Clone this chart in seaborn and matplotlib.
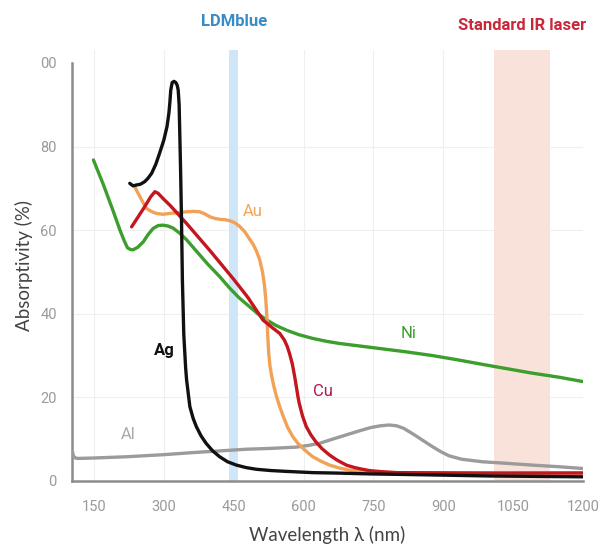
import pandas as pd
import matplotlib
matplotlib.use("Agg")
import matplotlib.pyplot as plt
import matplotlib.transforms as mtransforms
import seaborn as sns

# =====================================================
# DATA
# =====================================================

ag_nm = [227, 234, 241, 250, 259, 266, 274, 283, 291, 300, 307, 311, 313, 315,
         318, 322, 326, 329, 331, 333, 334, 336, 338, 340, 343, 347, 349, 356,
         363, 370, 380, 391, 405, 420, 437, 456, 477, 499, 530, 563, 620, 670,
         741, 850, 1000, 1200]
ag_val = [71.2, 70.6, 70.8, 71.0, 71.6, 72.4, 73.6, 75.8, 78.4, 81.5, 84.8, 88.0,
          90.4, 93.5, 95.3, 95.6, 95.3, 94.6, 93.5, 90.0, 85.0, 75.0, 63.0, 48.0,
          35.0, 27.0, 24.2, 17.8, 15.0, 13.0, 10.8, 9.0, 7.2, 5.8, 4.6, 3.8, 3.2,
          2.8, 2.5, 2.3, 2.0, 1.9, 1.7, 1.5, 1.2, 1.0]

cu_nm = [231, 245, 259, 272, 281, 288, 300, 313, 349, 400, 449, 480, 513, 535,
         549, 559, 565, 570, 576, 581, 585, 588, 591, 598, 606, 616, 627, 640,
         656, 672, 692, 710, 727, 741, 770, 800, 1000, 1200]
cu_val = [60.8, 63.2, 65.6, 68.0, 69.2, 68.8, 67.4, 66.0, 61.6, 55.0, 48.4, 44.0,
          38.5, 36.5, 35.3, 33.7, 32.2, 30.5, 28.0, 25.0, 22.3, 20.2, 18.5, 15.5,
          13.0, 11.0, 9.3, 7.7, 6.2, 5.0, 3.8, 3.2, 2.8, 2.5, 2.2, 2.0, 1.9, 1.9]

au_nm = [238, 243, 249, 256, 263, 273, 284, 298, 313, 330, 349, 363, 377, 388,
         399, 410, 420, 431, 441, 452, 463, 474, 484, 492, 499, 506, 512, 516,
         519, 521, 523, 525, 528, 531, 536, 542, 549, 556, 566, 577, 588, 599,
         610, 620, 638, 656, 677, 699, 720, 741, 800, 900, 1050, 1200]
au_val = [70.4, 69.2, 68.0, 66.5, 65.2, 64.5, 64.0, 63.8, 64.0, 64.2, 64.4, 64.5,
          64.4, 63.9, 63.2, 62.8, 62.6, 62.5, 62.3, 61.8, 60.9, 59.6, 57.9, 56.6,
          55.0, 52.9, 50.0, 47.0, 43.5, 40.0, 35.3, 31.0, 27.5, 25.5, 22.8, 20.2,
          17.8, 15.6, 12.8, 10.6, 9.0, 7.8, 6.7, 5.8, 4.7, 3.8, 3.1, 2.6, 2.3,
          2.2, 2.0, 1.9, 1.9, 2.0]

ni_nm = [149, 170, 190, 206, 215, 222, 228, 234, 244, 256, 266, 277, 288, 298,
         309, 320, 334, 349, 370, 395, 420, 441, 462, 484, 502, 520, 541, 563,
         590, 620, 650, 677, 720, 763, 820, 877, 930, 984, 1040, 1091, 1150, 1199]
ni_val = [76.8, 71.0, 65.0, 60.0, 57.5, 55.8, 55.4, 55.3, 55.9, 57.2, 58.9, 60.4,
          61.1, 61.2, 61.0, 60.5, 59.3, 57.7, 55.0, 51.8, 48.9, 46.2, 43.8, 41.7,
          40.0, 38.6, 37.2, 36.1, 35.0, 34.1, 33.4, 32.9, 32.3, 31.7, 30.9, 30.0,
          29.0, 27.9, 26.8, 25.8, 24.8, 23.8]

al_nm = [104, 106, 110, 116, 150, 220, 300, 363, 420, 477, 530, 584, 610, 634,
         662, 691, 720, 745, 765, 784, 800, 815, 827, 840, 855, 877, 895, 913,
         940, 984, 1040, 1091, 1150, 1199]
al_val = [7.0, 6.0, 5.5, 5.4, 5.5, 5.8, 6.3, 6.8, 7.2, 7.6, 7.8, 8.1, 8.5, 9.0,
          10.0, 11.0, 12.0, 12.8, 13.2, 13.4, 13.2, 12.6, 11.8, 10.9, 9.8, 8.2,
          7.0, 6.0, 5.2, 4.6, 4.2, 3.8, 3.4, 3.0]

metals = ["Al", "Ni", "Au", "Cu", "Ag"]
colors = {"Al": "#9b9b9b", "Ni": "#3c9e2c", "Au": "#f2a257",
          "Cu": "#c3161f", "Ag": "#111111"}
label_colors = {"Al": "#a8a8a8", "Ni": "#3c9e2c", "Au": "#f2a257",
                "Cu": "#b0184c", "Ag": "#111111"}

# label positions (nm, %)
label_pos = {"Ag": (302, 31.3), "Au": (490, 64.4), "Cu": (641, 21.3),
             "Ni": (825, 35.4), "Al": (223, 11.2)}

blue_band = (440, 460)
ir_band = (1010, 1130)

x_ticks = [150, 300, 450, 600, 750, 900, 1050, 1200]
y_ticks = [0, 20, 40, 60, 80, 100]
y_tick_labels = ["0", "20", "40", "60", "80", "00"]

# =====================================================
# BUILD TABLE
# =====================================================

frames = []
for name, xs, ys in [("Al", al_nm, al_val), ("Ni", ni_nm, ni_val),
                     ("Au", au_nm, au_val), ("Cu", cu_nm, cu_val),
                     ("Ag", ag_nm, ag_val)]:
    frames.append(pd.DataFrame({"nm": xs, "val": ys, "metal": name}))
df = pd.concat(frames, ignore_index=True)

# =====================================================
# PLOT
# =====================================================

sns.set_style("white")
plt.rcParams["font.family"] = ["Roboto", "DejaVu Sans"]

fig = plt.figure(figsize=(6.04, 5.49), dpi=100)
ax = fig.add_axes([72 / 604, 1 - 481 / 549, (583 - 72) / 604, (481 - 50) / 549])

for t in x_ticks:
    ax.axvline(t, color="#efefef", lw=0.8, zorder=0.2)
for t in y_ticks[1:5]:
    ax.axhline(t, color="#efefef", lw=0.8, zorder=0.2)

ax.axvspan(*blue_band, color="#cfe6f8", lw=0, zorder=1)
ax.axvspan(*ir_band, color="#f9e2da", lw=0, zorder=1)

sns.lineplot(data=df, x="nm", y="val", hue="metal", hue_order=metals,
             palette=colors, sort=False, estimator=None, lw=2.4,
             legend=False, ax=ax, zorder=3)
for line in ax.get_lines():
    line.set_solid_joinstyle("round")
    line.set_solid_capstyle("round")

for name in metals:
    x, y = label_pos[name]
    ax.text(x, y, name, color=label_colors[name], fontsize=12,
            fontweight="bold" if name == "Ag" else "normal",
            ha="center", va="center")

ax.set_xlim(103, 1200)
ax.set_ylim(0, 103.1)
ax.set_xticks(x_ticks)
ax.set_yticks(y_ticks)
ax.set_yticklabels(y_tick_labels)

for s in ["top", "right"]:
    ax.spines[s].set_visible(False)
for s in ["left", "bottom"]:
    ax.spines[s].set_color("#8c8c8c")
    ax.spines[s].set_linewidth(1.8)
ax.spines["left"].set_bounds(0, 100)

ax.tick_params(axis="both", colors="#8c8c8c", labelcolor="#9a9a9a",
               direction="out", length=6, width=1.5, labelsize=10.5, pad=5)
ax.tick_params(axis="x", pad=8)

ax.set_xlabel("Wavelength λ (nm)", fontsize=13.5, color="#444444",
              family=["Lato", "DejaVu Sans"], labelpad=8)
ax.set_ylabel("Absorptivity (%)", fontsize=13.5, color="#444444",
              family=["Lato", "DejaVu Sans"], labelpad=5)

trans = mtransforms.blended_transform_factory(ax.transData, fig.transFigure)
ax.text(450, 1 - 22 / 549, "LDMblue", transform=trans, ha="center",
        va="center", color="#3a8cc6", fontsize=12, fontweight="bold")
ax.text(1070, 1 - 25 / 549, "Standard IR laser", transform=trans,
        ha="center", va="center", color="#c8283a", fontsize=12,
        fontweight="bold")

fig.savefig("out.png", dpi=100)
plt.close(fig)
